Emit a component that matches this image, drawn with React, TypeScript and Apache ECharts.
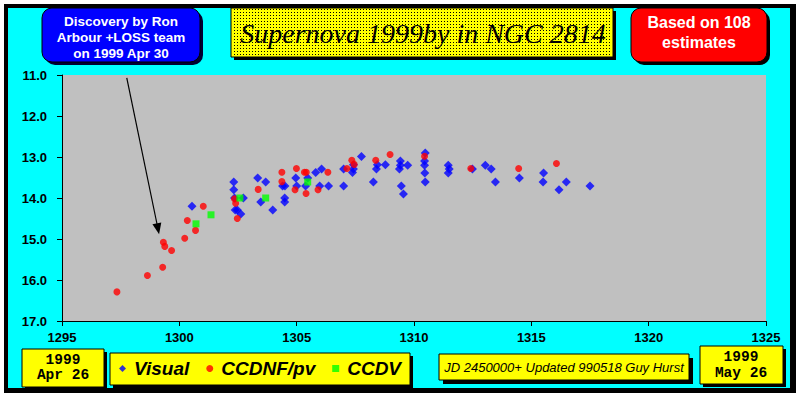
import React, { useEffect, useRef } from "react";
import * as echarts from "echarts";

// ---- data ----
const visualJD = [
  1300.54, 1302.32, 1302.32, 1302.35, 1302.38, 1302.47, 1302.62, 1302.73, 1303.34, 1303.47,
  1303.68, 1303.98, 1304.4, 1304.5, 1304.49, 1304.49, 1304.96, 1305.0, 1305.38, 1305.47,
  1305.81, 1305.98, 1306.06, 1306.36, 1307.0, 1307.0, 1307.38, 1307.42, 1307.42, 1307.76,
  1308.27, 1308.4, 1308.44, 1308.78, 1309.42, 1309.42, 1309.38, 1309.73, 1309.46, 1309.55,
  1310.48, 1310.45, 1310.45, 1310.46, 1310.48, 1311.46, 1311.5, 1311.46, 1312.49, 1313.04,
  1313.29, 1313.47, 1314.49, 1315.52, 1315.5, 1316.18, 1316.49, 1317.5,
];
const visualMag = [
  14.2, 13.61, 13.8, 14.0, 14.29, 14.29, 14.39, 14.0, 13.51, 14.1,
  13.61, 14.29, 13.71, 13.71, 14.0, 14.1, 13.51, 13.71, 13.71, 13.51,
  13.38, 13.71, 13.29, 13.71, 13.29, 13.71, 13.38, 13.29, 13.19, 12.99,
  13.61, 13.29, 13.19, 13.19, 13.1, 13.2, 13.29, 13.2, 13.71, 13.9,
  12.9, 13.1, 13.2, 13.39, 13.61, 13.2, 13.29, 13.39, 13.29, 13.2,
  13.29, 13.61, 13.51, 13.39, 13.61, 13.8, 13.61, 13.71,
];
const ccdnfJD = [
  1297.34, 1298.64, 1299.29, 1299.32, 1299.38, 1299.67, 1300.23, 1300.34, 1300.69, 1301.02,
  1302.35, 1302.4, 1302.47, 1303.36, 1304.37, 1304.37, 1304.99, 1304.93, 1305.33, 1305.41,
  1305.4, 1305.91, 1306.33, 1307.14, 1307.35, 1307.45, 1308.37, 1308.98, 1310.45, 1312.42,
  1314.46, 1316.07,
];
const ccdnfMag = [
  16.29, 15.89, 15.69, 15.08, 15.18, 15.28, 14.98, 14.55, 14.79, 14.2,
  14.02, 14.13, 14.5, 13.79, 13.37, 13.6, 13.28, 13.8, 13.37, 13.37,
  13.89, 13.8, 13.37, 13.28, 13.08, 13.18, 13.08, 12.94, 12.98, 13.28,
  13.28, 13.16,
];
const ccdvJD = [1300.71, 1301.35, 1302.58, 1303.68, 1305.47];
const ccdvMag = [14.63, 14.41, 14.0, 14.0, 13.61];

const seriesNames = ["Visual", "CCDNF/pv", "CCDV"];
const xTicks = { min: 1295, max: 1325, step: 5 };
const yTicks = { min: 11, max: 17, step: 1 };

// discovery arrow (JD, magnitude)
const arrowStart = [1297.76, 11.07];
const arrowEnd = [1299.09, 14.75];

const titleText = "Supernova 1999by in NGC 2814";
const discoveryLines = ["Discovery by Ron", "Arbour +LOSS team", "on 1999 Apr 30"];
const basedLines = ["Based on 108", "estimates"];
const footerText = "JD 2450000+ Updated 990518 Guy Hurst";
const startDate = ["1999", "Apr 26"];
const endDate = ["1999", "May 26"];

const zip = (a: number[], b: number[]) => a.map((v, i) => [v, b[i]]);

const dotUrl =
  "data:image/svg+xml;utf8," +
  encodeURIComponent(
    "<svg xmlns='http://www.w3.org/2000/svg' width='3' height='3'><rect x='0' y='0' width='1' height='1' fill='#000'/></svg>"
  );

function boxWithShadow(
  x: number, y: number, w: number, h: number, fill: string, r = 0, shadow = 3, shadowColor = "#000"
) {
  return [
    { type: "rect", z: 10, shape: { x: x + shadow, y: y + shadow, width: w, height: h, r }, style: { fill: shadowColor } },
    { type: "rect", z: 11, shape: { x, y, width: w, height: h, r }, style: { fill, stroke: "#000", lineWidth: 1 } },
  ];
}

function lines(texts: string[], cx: number, y0: number, dy: number, font: any, fill: string) {
  return texts.map((t, i) => ({
    type: "text", z: 12, x: cx, y: y0 + i * dy,
    style: { text: t, fill, align: "center", verticalAlign: "middle", ...font },
  }));
}

export default function App() {
  const ref = useRef<HTMLDivElement>(null);
  useEffect(() => {
    document.body.style.margin = "0";
    const chart = echarts.init(ref.current!, null, { renderer: "svg" });
    const sansBold = { fontFamily: "Liberation Sans, Arial, sans-serif", fontWeight: "bold" };
    const mono = { fontFamily: "Liberation Mono, Courier New, monospace", fontWeight: "bold", fontSize: 14.5 };
    chart.setOption({
      animation: false,
      backgroundColor: "#ffffff",
      grid: { left: 62, top: 75, right: 30, bottom: 77, show: true, backgroundColor: "#c0c0c0", borderWidth: 0 },
      xAxis: {
        type: "value", min: xTicks.min, max: xTicks.max, interval: xTicks.step,
        axisLine: { onZero: false, lineStyle: { color: "#000", width: 1 } },
        axisTick: { show: true, length: 5, lineStyle: { color: "#000" } },
        splitLine: { show: false },
        axisLabel: { color: "#000", fontSize: 13, margin: 10, formatter: (v: number) => String(v), ...sansBold },
      },
      yAxis: {
        type: "value", inverse: true, min: yTicks.min, max: yTicks.max, interval: yTicks.step,
        axisLine: { show: true, onZero: false, lineStyle: { color: "#000", width: 1 } },
        axisTick: { show: true, length: 5, lineStyle: { color: "#000" } },
        splitLine: { show: false },
        axisLabel: { color: "#000", fontSize: 13, margin: 15, formatter: (v: number) => v.toFixed(1), ...sansBold },
      },
      legend: {
        data: seriesNames, left: 119, top: 359, padding: 0, itemGap: 17, itemWidth: 7, itemHeight: 7,
        selectedMode: false, z: 20,
        textStyle: {
          fontSize: 19, fontWeight: "bold", fontStyle: "italic", color: "#000",
          fontFamily: "Liberation Sans, Arial, sans-serif", padding: [0, 0, 0, 3],
        },
      },
      series: [
        {
          name: seriesNames[0], type: "scatter", symbol: "diamond", symbolSize: 9, z: 2,
          itemStyle: { color: "#0000ff" }, data: zip(visualJD, visualMag),
          markLine: {
            silent: true, symbol: ["none", "triangle"], symbolSize: [9, 11], z: 6,
            lineStyle: { color: "#000", width: 1.2, type: "solid" }, label: { show: false },
            data: [[{ coord: arrowStart }, { coord: arrowEnd }]],
          },
        },
        {
          name: seriesNames[1], type: "scatter", symbol: "circle", symbolSize: 7, z: 3,
          itemStyle: { color: "#ff0000" }, data: zip(ccdnfJD, ccdnfMag),
        },
        {
          name: seriesNames[2], type: "scatter", symbol: "rect", symbolSize: 7, z: 4,
          itemStyle: { color: "#00ff00" }, data: zip(ccdvJD, ccdvMag),
        },
      ],
      graphic: [
        { type: "rect", z: -10, shape: { x: 4, y: 4, width: 792, height: 389 }, style: { fill: "#000" } },
        { type: "rect", z: -9, shape: { x: 8, y: 8, width: 782, height: 380 }, style: { fill: "#00ffff" } },
        // discovery box
        ...boxWithShadow(42, 8, 158, 54, "#0000ff", 10, 3, "#000033"),
        ...lines(discoveryLines, 121, 21, 16, { ...sansBold, fontSize: 13.5 }, "#ffffff"),
        // title box
        ...boxWithShadow(231, 8, 382, 49, "#ffff00", 0, 3),
        {
          type: "rect", z: 11, shape: { x: 232, y: 9, width: 380, height: 47 },
          style: { fill: { image: dotUrl, repeat: "repeat", imageWidth: 3, imageHeight: 3 } },
        },
        {
          type: "text", z: 12, x: 423, y: 33,
          style: {
            text: titleText, fill: "#000", align: "center", verticalAlign: "middle",
            fontFamily: "Liberation Serif, Times New Roman, serif", fontStyle: "italic", fontSize: 28,
          },
        },
        // based-on box
        ...boxWithShadow(631, 8, 136, 54, "#ff0000", 10, 3),
        ...lines(basedLines, 699, 22, 20, { ...sansBold, fontSize: 16 }, "#ffffff"),
        // start date box
        ...boxWithShadow(22, 349, 82, 38, "#ffff00", 0, 3),
        ...lines(startDate, 63, 360, 15, mono, "#000"),
        // legend box
        ...boxWithShadow(110, 353, 300, 32, "#ffff00", 0, 3),
        // footer box
        ...boxWithShadow(439, 354, 250, 26, "#ffff00", 0, 4),
        {
          type: "text", z: 12, x: 564, y: 367,
          style: {
            text: footerText, fill: "#000", align: "center", verticalAlign: "middle",
            fontFamily: "Liberation Sans, Arial, sans-serif", fontStyle: "italic", fontSize: 13,
          },
        },
        // end date box
        ...boxWithShadow(700, 346, 83, 38, "#ffff00", 0, 3),
        ...lines(endDate, 741, 357, 16, mono, "#000"),
      ],
    });
    return () => chart.dispose();
  }, []);
  return (
    <div
      ref={ref}
      style={{ position: "fixed", left: 0, top: 0, width: 796, height: 398 }}
    />
  );
}
